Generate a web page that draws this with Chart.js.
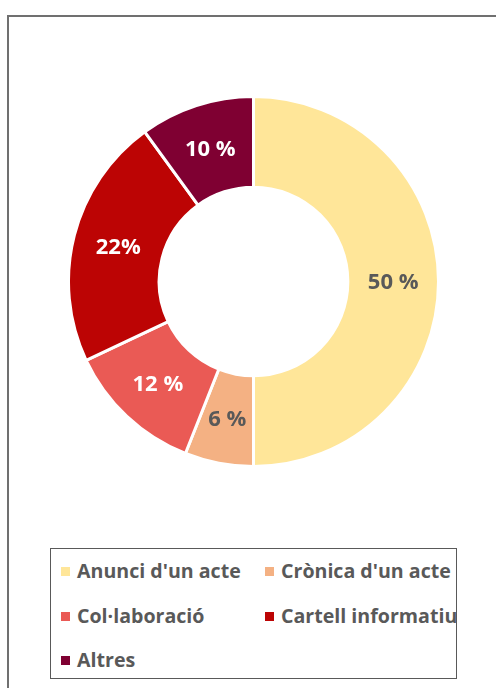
<!DOCTYPE html>
<html>
<head>
<meta charset="utf-8">
<script src="https://cdn.jsdelivr.net/npm/chart.js@4/dist/chart.umd.min.js"></script>
<style>
    html, body { margin: 0; padding: 0; background: #fff; }
    body { width: 496px; height: 688px; position: relative; overflow: hidden; font-family: "Open Sans", sans-serif; }
    #frame { position: absolute; left: 7px; top: 15px; width: 600px; height: 800px; border-left: 2px solid #707070; border-top: 2px solid #707070; }
    #wrap { position: absolute; left: 67px; top: 95px; width: 373px; height: 373px; }
    #legend { position: absolute; left: 50px; top: 548px; width: 405px; height: 129px; border: 1.5px solid #595959; overflow: hidden; }
    .item { position: absolute; white-space: nowrap; font-weight: bold; font-size: 19.6px; color: #595959; line-height: 22px; }
    .item span.box { display: inline-block; width: 9px; height: 9px; margin-right: 7px; vertical-align: 2px; }
</style>
</head>
<body>
<div id="frame"></div>
<div id="wrap"><canvas id="donut"></canvas></div>
<div id="legend"></div>
<script>
const categories = ["Anunci d'un acte", "Crònica d'un acte", "Col·laboració", "Cartell informatiu", "Altres"];
const shares = [50, 6, 12, 22, 10];
const shareLabels = ['50 %', '6 %', '12 %', '22%', '10 %'];
const sliceColors = ['#FFE699', '#F4B183', '#EA5A55', '#BC0404', '#7F0032'];
const labelColors = ['#595959', '#595959', '#ffffff', '#ffffff', '#ffffff'];

// draws the percentage in the middle of each slice
const sliceLabels = {
    id: 'sliceLabels',
    afterDatasetsDraw(chart) {
        const ctx = chart.ctx;
        const meta = chart.getDatasetMeta(0);
        ctx.save();
        ctx.font = 'bold 22px "Open Sans", sans-serif';
        ctx.textAlign = 'center';
        ctx.textBaseline = 'middle';
        meta.data.forEach((arc, i) => {
            const p = arc.getCenterPoint();
            ctx.fillStyle = labelColors[i];
            ctx.fillText(shareLabels[i], p.x, p.y + 1);
        });
        ctx.restore();
    }
};

new Chart(document.getElementById('donut'), {
    type: 'doughnut',
    data: {
        labels: categories,
        datasets: [{
            data: shares,
            backgroundColor: sliceColors,
            borderColor: '#ffffff',
            borderWidth: 3
        }]
    },
    options: {
        responsive: true,
        maintainAspectRatio: false,
        animation: false,
        cutout: '51%',
        layout: { padding: 0 },
        plugins: {
            legend: { display: false },
            tooltip: { enabled: false }
        }
    },
    plugins: [sliceLabels]
});

// legend, two columns like the original
const legend = document.getElementById('legend');
const colX = [10, 214];
const rowY = [11, 56, 100];
categories.forEach((name, i) => {
    const el = document.createElement('div');
    el.className = 'item';
    el.style.left = colX[i % 2] + 'px';
    el.style.top = rowY[Math.floor(i / 2)] + 'px';
    el.innerHTML = '<span class="box" style="background:' + sliceColors[i] + '"></span>';
    el.appendChild(document.createTextNode(name));
    legend.appendChild(el);
});
</script>
</body>
</html>
